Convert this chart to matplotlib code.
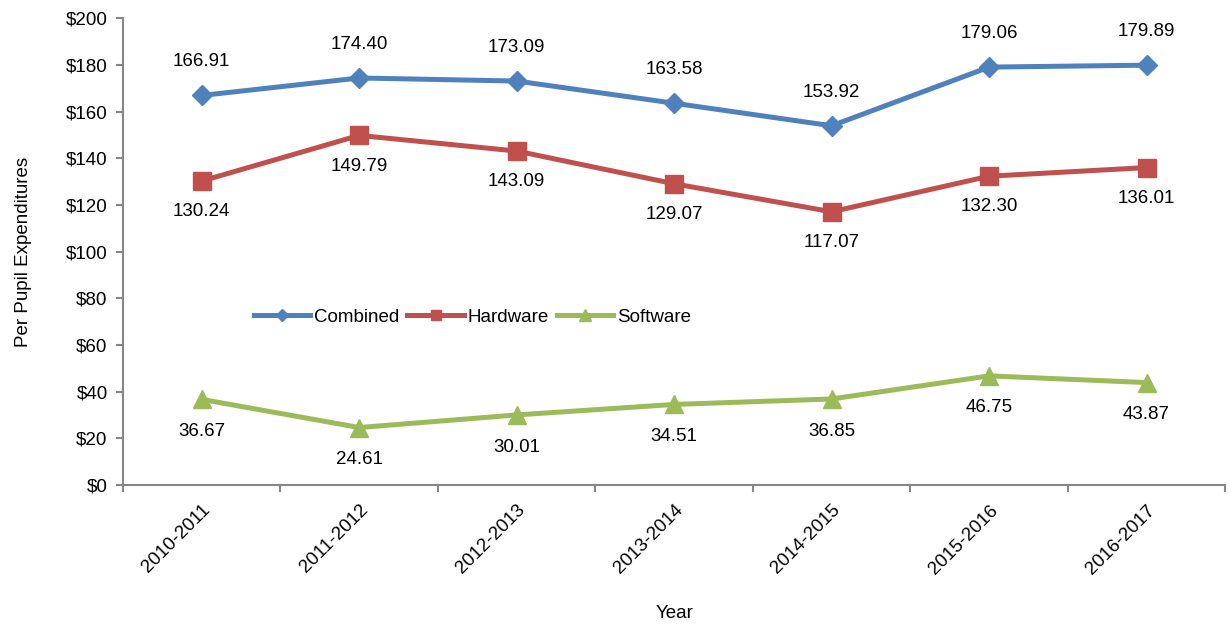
import numpy as np
import matplotlib.pyplot as plt

plt.rcParams['font.family'] = ['Liberation Sans', 'DejaVu Sans']

years = ['2010-2011', '2011-2012', '2012-2013', '2013-2014', '2014-2015', '2015-2016', '2016-2017']
combined = [166.91, 174.40, 173.09, 163.58, 153.92, 179.06, 179.89]
hardware = [130.24, 149.79, 143.09, 129.07, 117.07, 132.30, 136.01]
software = [36.67, 24.61, 30.01, 34.51, 36.85, 46.75, 43.87]

gray = '#868686'
fs = 13.5
fig = plt.figure(figsize=(12.31, 6.29), dpi=100)
ax = fig.add_axes([0.0999, 0.229, 0.8955, 0.742])

x = np.arange(len(years))
ax.plot(x, combined, color='#4F81BD', lw=3.6, marker='D', ms=10, label='Combined')
ax.plot(x, hardware, color='#C0504D', lw=3.6, marker='s', ms=12.5, label='Hardware')
ax.plot(x, software, color='#9BBB59', lw=3.6, marker='^', ms=13.5, label='Software')

for xi, v in zip(x, combined):
    ax.annotate(f'{v:.2f}', (xi, v), xytext=(0, 18), textcoords='offset points',
                ha='center', va='bottom', fontsize=fs)
for xi, v in zip(x, hardware):
    ax.annotate(f'{v:.2f}', (xi, v), xytext=(0, -16), textcoords='offset points',
                ha='center', va='top', fontsize=fs)
for xi, v in zip(x, software):
    ax.annotate(f'{v:.2f}', (xi, v), xytext=(0, -17), textcoords='offset points',
                ha='center', va='top', fontsize=fs)

ax.set_xlim(-0.5, len(years) - 0.5)
ax.set_ylim(0, 200)
ax.set_yticks(np.arange(0, 201, 20))
ax.set_yticklabels([f'${v}' for v in range(0, 201, 20)], fontsize=fs)
ax.set_xticks(x)
ax.set_xticklabels(years, rotation=45, ha='right', rotation_mode='anchor', fontsize=fs)
ax.set_xticks(np.arange(-0.5, len(years), 1), minor=True)
ax.tick_params(axis='x', which='major', length=0, pad=12)
ax.tick_params(axis='x', which='minor', length=5, color=gray, width=1.5)
ax.tick_params(axis='y', length=5, color=gray, width=1.5, pad=6)

for s in ['top', 'right']:
    ax.spines[s].set_visible(False)
for s in ['left', 'bottom']:
    ax.spines[s].set_color(gray)
    ax.spines[s].set_linewidth(1.5)

ax.set_ylabel('Per Pupil Expenditures', fontsize=fs, labelpad=24)
ax.set_xlabel('Year', fontsize=fs, labelpad=20)

ax.legend(loc='center', bbox_to_anchor=(0.317, 0.36), ncol=3, frameon=False, fontsize=fs,
          handlelength=3.0, handletextpad=0.2, columnspacing=0.45, markerscale=0.6)

fig.savefig('out.png', dpi=100)
